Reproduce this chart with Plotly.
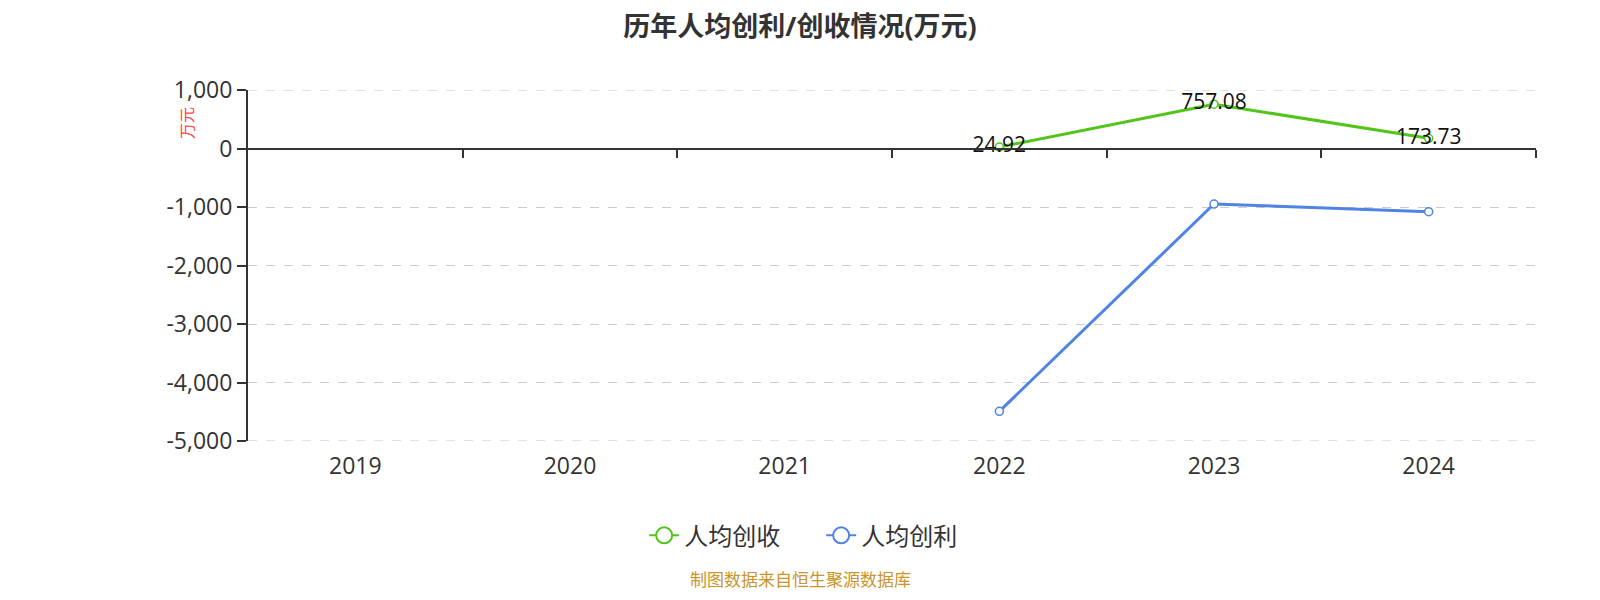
import plotly.graph_objects as go

# --- data ---------------------------------------------------------------------
years = ["2019", "2020", "2021", "2022", "2023", "2024"]
revenue_per_capita = [None, None, None, 24.92, 757.08, 173.73]   # 人均创收
profit_per_capita = [None, None, None, -4493, -949, -1080]       # 人均创利
revenue_labels = ["", "", "", "24.92", "757.08", "173.73"]

y_ticks = [1000, 0, -1000, -2000, -3000, -4000, -5000]
y_tick_text = ["1,000", "0", "-1,000", "-2,000", "-3,000", "-4,000", "-5,000"]
y_range = [-5000, 1000]

FONT = "Open Sans, Noto Sans CJK SC, sans-serif"
GREEN = "#52c41a"
BLUE = "#4f84e3"

fig = go.Figure()

fig.add_trace(
    go.Scatter(
        x=years,
        y=revenue_per_capita,
        text=revenue_labels,
        mode="lines+markers+text",
        textposition="middle center",
        textfont=dict(size=21, color="#111", family=FONT),
        line=dict(color=GREEN, width=3),
        marker=dict(size=8, color="white", line=dict(color=GREEN, width=1.5)),
        name="人均创收",
        showlegend=False,
        cliponaxis=False,
    )
)
fig.add_trace(
    go.Scatter(
        x=years,
        y=profit_per_capita,
        mode="lines+markers",
        line=dict(color=BLUE, width=3),
        marker=dict(size=8, color="white", line=dict(color=BLUE, width=1.5)),
        name="人均创利",
        showlegend=False,
        cliponaxis=False,
    )
)

# legend-only entries with bigger open circles
for name, color in [("人均创收", GREEN), ("人均创利", BLUE)]:
    fig.add_trace(
        go.Scatter(
            x=[None],
            y=[None],
            mode="lines+markers",
            line=dict(color=color, width=2),
            marker=dict(size=20, color="white", line=dict(color=color, width=2)),
            name=name,
        )
    )

# empty trace so the zero-line axis (x2) gets drawn
fig.add_trace(go.Scatter(x=[None], y=[None], xaxis="x2", showlegend=False, hoverinfo="skip"))

# plotly drops gridlines sitting on the plot edge; redraw the first/last one
for yv in (y_ticks[0], y_ticks[-1]):
    fig.add_shape(
        type="line",
        xref="paper",
        x0=0,
        x1=1,
        yref="y",
        y0=yv,
        y1=yv,
        line=dict(color="#c4c4c4", width=1, dash="dash"),
        layer="below",
    )

# x axis drawn on the zero line, with ticks at category boundaries
zero_pos = (0 - y_range[0]) / (y_range[1] - y_range[0])
boundaries = [i + 0.5 for i in range(len(years))]

fig.update_layout(
    width=1584,
    height=584,
    paper_bgcolor="white",
    plot_bgcolor="white",
    margin=dict(l=240, r=56, t=82, b=151),
    font=dict(family=FONT, color="#333"),
    title=dict(
        text="<b>历年人均创利/创收情况(万元)</b>",
        x=0.5,
        xanchor="center",
        yref="container",
        y=1 - 18.5 / 584,
        yanchor="middle",
        font=dict(size=27, color="#333", family=FONT),
    ),
    xaxis=dict(
        type="category",
        range=[-0.5, len(years) - 0.5],
        showgrid=False,
        showline=False,
        ticks="",
        tickfont=dict(size=23, color="#333"),
        ticklabelstandoff=9,
    ),
    xaxis2=dict(
        overlaying="x",
        anchor="free",
        position=zero_pos,
        range=[-0.5, len(years) - 0.5],
        tickmode="array",
        tickvals=boundaries,
        showticklabels=False,
        ticks="outside",
        ticklen=8,
        tickwidth=2,
        tickcolor="#333",
        showline=True,
        linecolor="#333",
        linewidth=2,
        showgrid=False,
        zeroline=False,
    ),
    yaxis=dict(
        range=y_range,
        tickmode="array",
        tickvals=y_ticks,
        ticktext=y_tick_text,
        showline=True,
        linecolor="#333",
        linewidth=2,
        ticks="outside",
        ticklen=9,
        tickwidth=2,
        tickcolor="#333",
        showgrid=True,
        gridcolor="#cccccc",
        griddash="dash",
        gridwidth=1,
        zeroline=False,
        tickfont=dict(size=23, color="#333"),
    ),
    legend=dict(
        orientation="h",
        x=0.445,
        xanchor="center",
        y=-0.27,
        yanchor="middle",
        font=dict(size=24, color="#333"),
        entrywidth=132,
        entrywidthmode="pixels",
    ),
    annotations=[
        dict(
            text="万元",
            xref="paper",
            yref="paper",
            x=-0.0474,
            y=0.906,
            xanchor="center",
            yanchor="middle",
            textangle=-90,
            showarrow=False,
            font=dict(size=16, color="#f44"),
        ),
        dict(
            text="制图数据来自恒生聚源数据库",
            xref="paper",
            yref="paper",
            x=0.429,
            y=-0.396,
            xanchor="center",
            yanchor="middle",
            showarrow=False,
            font=dict(size=17, color="#c9952b"),
        ),
    ],
)

fig.write_html("out.html")
